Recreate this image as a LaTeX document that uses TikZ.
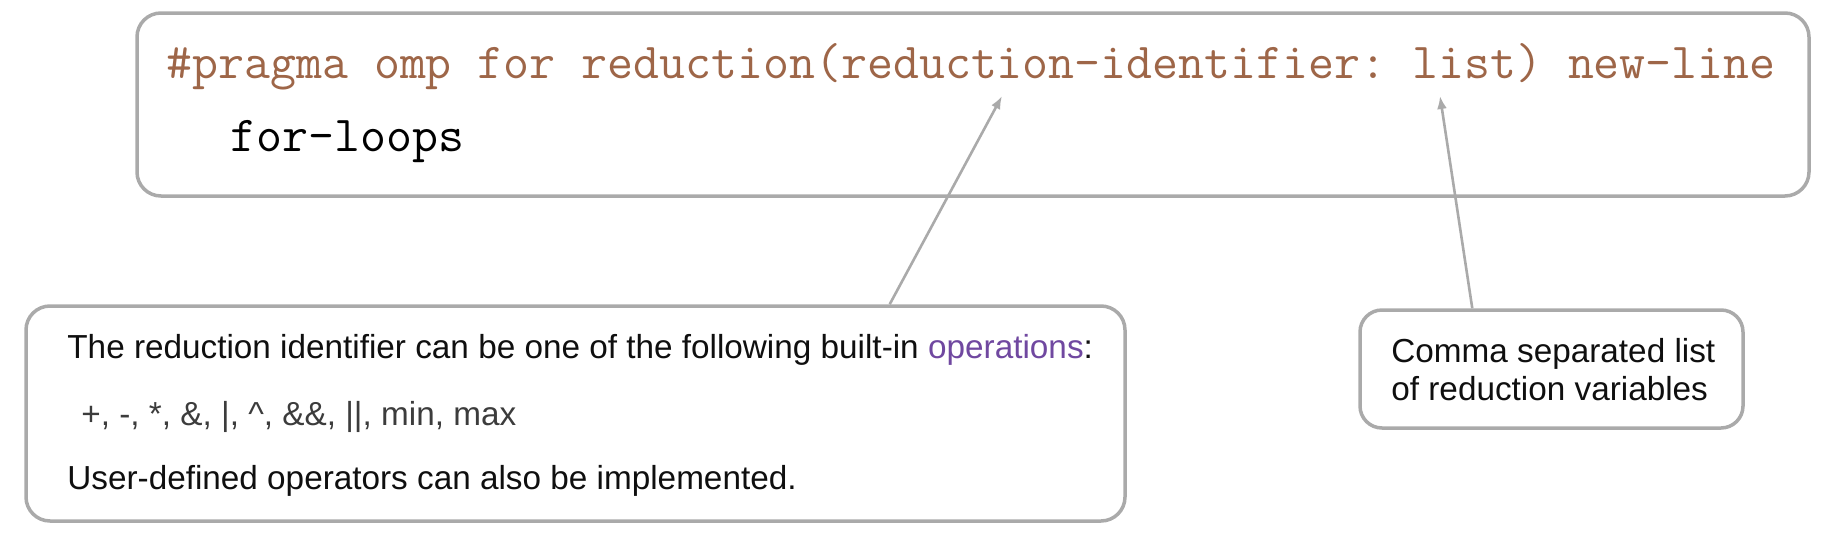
\documentclass[tikz,border=0pt]{standalone}
\usepackage{fontspec}
\setmainfont{Liberation Sans}
\usetikzlibrary{positioning, calc, arrows.meta}
\tikzset{>={Latex[length=6.5pt, width=5pt]}}
\definecolor{codebrown}{RGB}{158,102,72}
\definecolor{oppurple}{RGB}{112,72,160}
\definecolor{framegray}{RGB}{170,170,170}
\definecolor{notetext}{RGB}{15,15,15}
\definecolor{opgray}{RGB}{60,60,60}
\frenchspacing

\begin{document}
\begin{tikzpicture}
    [x=0.5pt, y=-0.5pt,
     frame/.style={draw=framegray, line width=1.75pt, inner sep=0pt},
     code/.style={font=\ttfamily\fontsize{25.2}{30}\selectfont, inner sep=0pt, anchor=base west},
     note/.style={font=\fontsize{16.65}{20}\selectfont, text=notetext, inner sep=0pt, anchor=base west},
     pointer/.style={draw=framegray, line width=1.3pt, ->}]

    \useasboundingbox (0,0) rectangle (1822,542);

    % the directive
    \node[frame, rounded corners=12pt, minimum width=836pt, minimum height=91.5pt] (code) at (973,104.5) {};
    \node[code, text=codebrown] (pragma) at (166,78)
      {\#pragma omp for reduction(reduction-identifier: list) new-line};
    \node[code] (loops) at (230,151) {for-loops};

    % the identifier note
    \node[frame, rounded corners=12pt, minimum width=549.5pt, minimum height=107.5pt] (idbox) at (575.5,413.5) {};
    \node[note] (idline) at (67,358)
      {The reduction identifier can be one of the following built-in \textcolor{oppurple}{operations}:};
    \node[note, text=opgray] (opline) at (81,425) {+, -, *, \&, |, \^{}, \&\&, ||, min, max};
    \node[note] (userline) at (67,489) {User-defined operators can also be implemented.};

    % the list note
    \node[frame, rounded corners=11pt, minimum width=191.5pt, minimum height=59pt] (listbox) at (1551.5,369) {};
    \node[note] (listline) at (1391,362) {Comma separated list};
    \node[note] (varline) at (1391,400) {of reduction variables};

    \coordinate (idtip) at (1002,96);
    \coordinate (listtip) at (1440,96);
    \draw[pointer] ($(idbox.north west)!0.785!(idbox.north east)$) to (idtip);
    \draw[pointer] ($(listbox.north west)!0.295!(listbox.north east)$) to (listtip);
\end{tikzpicture}
\end{document}
